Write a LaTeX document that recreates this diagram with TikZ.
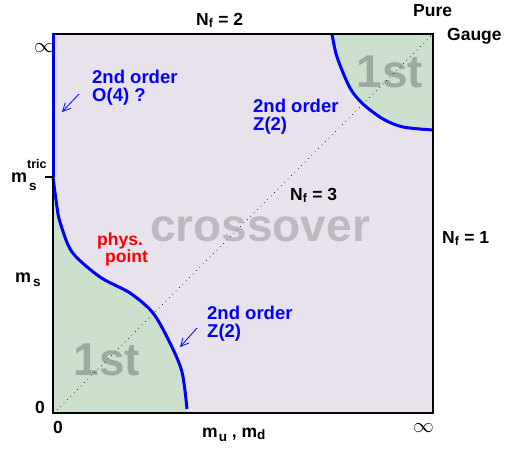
\documentclass[tikz,border=0pt]{standalone}
\usepackage{fontspec}
\setmainfont{Liberation Sans}
\usetikzlibrary{arrows.meta}
\definecolor{lavender}{RGB}{232,226,236}
\definecolor{firstgreen}{RGB}{205,223,205}
\definecolor{firstgray}{RGB}{158,170,158}
\definecolor{crossgray}{RGB}{190,185,193}
\newcommand\nf{N\textsubscript{f}}
\tikzset{
  lbl/.style={font=\fontsize{17.5}{19}\selectfont\bfseries, inner sep=0pt, anchor=base west},
  order/.style={font=\fontsize{18.5}{18}\selectfont\bfseries, text=blue, align=left, anchor=north west, inner sep=0pt},
  big/.style={font=\fontsize{46}{46}\selectfont\bfseries, inner sep=0pt},
  crit/.style={blue, line width=3pt},
  pointer/.style={blue, line width=0.8pt, -{Straight Barb[length=8pt,width=8pt]}},
}

\begin{document}
\begin{tikzpicture}[x=1pt,y=-1pt]
  \useasboundingbox (0,0) rectangle (506,448);
  % regions
  \fill[lavender] (53,34) rectangle (433,413);
  \fill[firstgreen] plot[smooth] coordinates {(53,177) (57,207) (60,222) (72,252) (100,277) (130,293) (153,313) (170,343) (182,372) (187,413)} -- (53,413) -- cycle;
  \fill[firstgreen] plot[smooth] coordinates {(332,34) (337,57) (350,88) (363,104) (383,119) (403,127) (433,130)} -- (433,34) -- cycle;
  \node[big, text=firstgray] (first1) at (107,360) {1st};
  \node[big, text=firstgray] (first2) at (390,72) {1st};
  \node[big, text=crossgray] (cross) at (260,229) {crossover};
  % symmetric line
  \coordinate (origin) at (57,410);
  \coordinate (pure) at (431,36);
  \draw[line width=0.6pt, dash pattern=on 0.8pt off 4pt] (origin) -- (pure);
  % critical lines
  \draw[crit] plot[smooth] coordinates {(53,177) (57,207) (60,222) (72,252) (100,277) (130,293) (153,313) (170,343) (182,372) (187,409)};
  \draw[crit] plot[smooth] coordinates {(332,34) (337,57) (350,88) (363,104) (383,119) (403,127) (433,130)};
  \draw[line width=2.5pt] (53,34) rectangle (433,413);
  \coordinate (tric) at (53,177);
  \coordinate (tick) at (45,177);
  \draw[crit] (53,34) -- (tric);
  \draw[line width=2pt] (tick) -- (tric);
  % labels
  \node[lbl] (nf2) at (196,25) {\nf{} = 2};
  \node[lbl] (nf3) at (290,200) {\nf{} = 3};
  \node[lbl] (nf1) at (442,243) {\nf{} = 1};
  \node[lbl] (purel) at (413,16) {Pure};
  \node[lbl] (gauge) at (447,40) {Gauge};
  \node[lbl, font=\fontsize{20}{20}\selectfont] (msinf) at (34,52) {$\infty$};
  \node[lbl, font=\fontsize{20}{20}\selectfont] (muinf) at (413,432) {$\infty$};
  \node[lbl] (ms0) at (35,413) {0};
  \node[lbl] (mu0) at (53,433) {0};
  \node[lbl, font=\fontsize{18}{18}\selectfont\bfseries] (mstric) at (11,182) {m\rlap{\raisebox{14pt}{\fontsize{12.5}{12}\selectfont tric}}\hspace{2pt}\raisebox{-8pt}{\fontsize{13.5}{13}\selectfont s}};
  \node[lbl, font=\fontsize{18}{18}\selectfont\bfseries] (ms) at (15,282) {m\hspace{2pt}\raisebox{-4pt}{\fontsize{13.5}{13}\selectfont s}};
  \node[lbl] (mud) at (202,437) {m\hspace{1pt}\raisebox{-4pt}{\fontsize{13.5}{13}\selectfont u} , m\raisebox{-2pt}{\fontsize{13.5}{13}\selectfont d}};
  \node[lbl, text=red] (phys) at (97,245) {phys.};
  \node[lbl, text=red] (point) at (105,262) {point};
  \node[order] (o4) at (92,70) {2nd order\\O(4) ?};
  \node[order] (z2top) at (253,99) {2nd order\\Z(2)};
  \node[order] (z2bot) at (207,306) {2nd order\\Z(2)};
  % pointers
  \coordinate (o4tail) at (79,94);
  \coordinate (o4tip) at (62,112);
  \coordinate (z2tail) at (197,328);
  \coordinate (z2tip) at (180,347);
  \draw[pointer] (o4tail) -- (o4tip);
  \draw[pointer] (z2tail) -- (z2tip);
\end{tikzpicture}
\end{document}
